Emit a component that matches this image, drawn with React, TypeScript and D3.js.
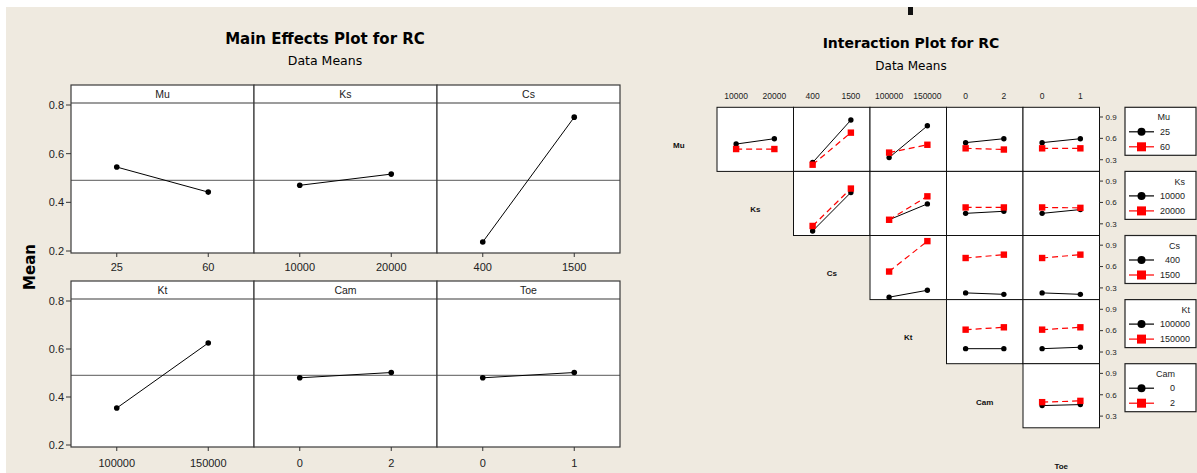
import React from 'react';
import * as d3 from 'd3';

// factor names and their two levels, as printed on the axes
const factors = ["Mu", "Ks", "Cs", "Kt", "Cam", "Toe"];
const factorLevels = [
  ["25", "60"],
  ["10000", "20000"],
  ["400", "1500"],
  ["100000", "150000"],
  ["0", "2"],
  ["0", "1"]
];

// main effects: mean RC at each level
const mainMeans = [
  [0.545, 0.442],
  [0.47, 0.516],
  [0.237, 0.75],
  [0.354, 0.625],
  [0.48, 0.502],
  [0.48, 0.502]
];
const grandMean = 0.49;
const mainTicks = [0.2, 0.4, 0.6, 0.8];

// interaction means, one array per row factor; each cell = [row level 1 series, row level 2 series]
// taken across the column factor's two levels (columns = the factors after the row factor)
const muRow = [
  [[0.52, 0.595], [0.45, 0.45]],
  [[0.26, 0.857], [0.23, 0.68]],
  [[0.33, 0.776], [0.40, 0.51]],
  [[0.54, 0.595], [0.46, 0.443]],
  [[0.54, 0.595], [0.46, 0.46]]
];
const ksRow = [
  [[0.20, 0.74], [0.27, 0.795]],
  [[0.357, 0.58], [0.357, 0.686]],
  [[0.447, 0.476], [0.53, 0.53]],
  [[0.447, 0.50], [0.53, 0.524]]
];
const csRow = [
  [[0.17, 0.267], [0.53, 0.957]],
  [[0.23, 0.21], [0.72, 0.767]],
  [[0.23, 0.21], [0.72, 0.767]]
];
const ktRow = [
  [[0.347, 0.347], [0.614, 0.647]],
  [[0.347, 0.367], [0.614, 0.647]]
];
const camRow = [
  [[0.448, 0.462], [0.496, 0.514]]
];
const interRows = [muRow, ksRow, csRow, ktRow, camRow];
const interTicks = [0.3, 0.6, 0.9];

const BG = "#efeae0";
const SANS = "'Liberation Sans', Arial, sans-serif";
const DEJAVU = "'DejaVu Sans', sans-serif";
const RED = "#ff0000";

const MainEffects: React.FC = () => {
  const panelLeft = 71;
  const panelW = 183;
  const rows = [
    { stripTop: 85, stripBottom: 103, plotBottom: 253, labelY: 267 },
    { stripTop: 281, stripBottom: 299, plotBottom: 447, labelY: 463 }
  ];

  return (
    <g>
      <text x={325} y={44} textAnchor="middle" fontFamily={DEJAVU} fontWeight="bold" fontSize={15}>
        Main Effects Plot for RC
      </text>
      <text x={325} y={65} textAnchor="middle" fontFamily={DEJAVU} fontSize={12.5}>
        Data Means
      </text>
      <text
        transform="translate(35,267) rotate(-90)"
        textAnchor="middle"
        fontFamily={DEJAVU}
        fontWeight="bold"
        fontSize={15}
      >
        Mean
      </text>

      {factors.map((f, i) => {
        const r = rows[Math.floor(i / 3)];
        const x0 = panelLeft + (i % 3) * panelW;
        const x = d3.scalePoint<string>().domain(factorLevels[i]).range([x0, x0 + panelW]).padding(0.5);
        const y = d3.scaleLinear().domain([0.2, 0.8]).range([r.plotBottom - 2, r.stripBottom + 2]);
        const pts = factorLevels[i].map((lv, k) => [x(lv) as number, y(mainMeans[i][k])] as [number, number]);
        return (
          <g key={f}>
            <rect x={x0} y={r.stripTop} width={panelW} height={r.plotBottom - r.stripTop} fill="#fff" />
            <line x1={x0} x2={x0 + panelW} y1={y(grandMean)} y2={y(grandMean)} stroke="#7a7a7a" strokeWidth={1.3} />
            <path d={d3.line()(pts) || ""} fill="none" stroke="#000" strokeWidth={1} />
            {pts.map((p, k) => (
              <circle key={k} cx={p[0]} cy={p[1]} r={2.8} fill="#000" />
            ))}
            <rect
              x={x0}
              y={r.stripTop}
              width={panelW}
              height={r.plotBottom - r.stripTop}
              fill="none"
              stroke="#3a3a3a"
              strokeWidth={1.2}
            />
            <line x1={x0} x2={x0 + panelW} y1={r.stripBottom} y2={r.stripBottom} stroke="#3a3a3a" strokeWidth={1.2} />
            <text
              x={x0 + panelW / 2}
              y={(r.stripTop + r.stripBottom) / 2}
              dy="0.35em"
              textAnchor="middle"
              fontFamily={SANS}
              fontSize={10.5}
              fill="#222"
            >
              {f}
            </text>
            {factorLevels[i].map(lv => (
              <g key={lv}>
                <line x1={x(lv)} x2={x(lv)} y1={r.plotBottom} y2={r.plotBottom + 4} stroke="#333" />
                <text
                  x={x(lv)}
                  y={r.labelY}
                  dy="0.35em"
                  textAnchor="middle"
                  fontFamily={SANS}
                  fontSize={11}
                  fill="#222"
                >
                  {lv}
                </text>
              </g>
            ))}
            {i % 3 === 0 &&
              mainTicks.map(t => (
                <g key={t}>
                  <line x1={x0 - 5} x2={x0} y1={y(t)} y2={y(t)} stroke="#333" />
                  <text
                    x={x0 - 7}
                    y={y(t)}
                    dy="0.35em"
                    textAnchor="end"
                    fontFamily={SANS}
                    fontSize={11}
                    fill="#222"
                  >
                    {t.toFixed(1)}
                  </text>
                </g>
              ))}
          </g>
        );
      })}
    </g>
  );
};

const InteractionPlot: React.FC = () => {
  const gridLeft = 717;
  const colW = 76.5;
  const gridTop = 107.3;
  const rowH = 64.1;
  const legendX = 1125;
  const legendW = 71;
  const legendH = 48;

  const colX = (j: number) => gridLeft + j * colW;
  const rowY = (i: number) => gridTop + i * rowH;

  return (
    <g>
      <rect x={908} y={7} width={5} height={8} fill="#111" />
      <text x={911} y={48} textAnchor="middle" fontFamily={DEJAVU} fontWeight="bold" fontSize={14}>
        Interaction Plot for RC
      </text>
      <text x={911} y={70} textAnchor="middle" fontFamily={DEJAVU} fontSize={12}>
        Data Means
      </text>

      {/* column level labels along the top */}
      {factors.slice(1).map((f, j) => {
        const x = d3.scalePoint<string>().domain(factorLevels[j + 1]).range([colX(j), colX(j) + colW]).padding(0.5);
        return factorLevels[j + 1].map(lv => (
          <text
            key={f + lv}
            x={x(lv)}
            y={96}
            dy="0.35em"
            textAnchor="middle"
            fontFamily={SANS}
            fontSize={8.5}
            fill="#222"
          >
            {lv}
          </text>
        ));
      })}

      {/* row labels on the diagonal */}
      {factors.map((f, i) => (
        <text
          key={"lab" + f}
          x={colX(i - 1) + colW / 2}
          y={rowY(i) + rowH / 2 + 6}
          dy="0.35em"
          textAnchor="middle"
          fontFamily={SANS}
          fontWeight="bold"
          fontSize={8}
          fill="#111"
        >
          {f}
        </text>
      ))}

      {interRows.map((cells, i) => {
        const top = rowY(i);
        const y = d3.scaleLinear().domain([0.136, 1.036]).range([top + rowH, top]);
        const rowLevels = factorLevels[i];
        const maxLen = Math.max(factors[i].length, ...rowLevels.map(s => s.length));
        const textRight = 1160 + 5 * maxLen;
        return (
          <g key={"row" + i}>
            {cells.map((cell, k) => {
              const j = i + k;
              const c = j + 1;
              const x = d3.scalePoint<string>().domain(factorLevels[c]).range([colX(j), colX(j) + colW]).padding(0.5);
              const series = cell.map(vals =>
                factorLevels[c].map((lv, n) => [x(lv) as number, y(vals[n])] as [number, number])
              );
              return (
                <g key={"cell" + k}>
                  <rect x={colX(j)} y={top} width={colW} height={rowH} fill="#fff" stroke="#111" strokeWidth={1} />
                  <path d={d3.line()(series[0]) || ""} fill="none" stroke="#000" strokeWidth={1} />
                  {series[0].map((p, n) => (
                    <circle key={n} cx={p[0]} cy={p[1]} r={2.7} fill="#000" />
                  ))}
                  <path
                    d={d3.line()(series[1]) || ""}
                    fill="none"
                    stroke={RED}
                    strokeWidth={1.2}
                    strokeDasharray="6,4"
                  />
                  {series[1].map((p, n) => (
                    <rect key={n} x={p[0] - 3.2} y={p[1] - 3.2} width={6.4} height={6.4} fill={RED} />
                  ))}
                </g>
              );
            })}

            {/* right-hand axis */}
            {interTicks.map(t => (
              <g key={t}>
                <line x1={colX(5)} x2={colX(5) + 3.5} y1={y(t)} y2={y(t)} stroke="#333" />
                <text
                  x={colX(5) + 6}
                  y={y(t)}
                  dy="0.35em"
                  fontFamily={SANS}
                  fontSize={8}
                  fill="#222"
                >
                  {t.toFixed(1)}
                </text>
              </g>
            ))}

            {/* legend for the row factor */}
            <rect x={legendX} y={top} width={legendW} height={legendH} fill="#fff" stroke="#222" strokeWidth={1.2} />
            <text
              x={textRight}
              y={top + 10}
              dy="0.35em"
              textAnchor="end"
              fontFamily={SANS}
              fontSize={9}
              fill="#222"
            >
              {factors[i]}
            </text>
            {rowLevels.map((lv, n) => {
              const ly = top + 24.5 + n * 15;
              const col = n === 0 ? "#000" : RED;
              return (
                <g key={lv}>
                  <line x1={legendX + 4} x2={legendX + 29} y1={ly} y2={ly} stroke={col} strokeWidth={1.2} />
                  {n === 0 ? (
                    <circle cx={legendX + 16.5} cy={ly} r={4} fill="#000" />
                  ) : (
                    <rect x={legendX + 12} y={ly - 4.5} width={9} height={9} fill={RED} />
                  )}
                  <text
                    x={textRight}
                    y={ly}
                    dy="0.35em"
                    textAnchor="end"
                    fontFamily={SANS}
                    fontSize={9}
                    fill="#222"
                  >
                    {lv}
                  </text>
                </g>
              );
            })}
          </g>
        );
      })}
    </g>
  );
};

const App: React.FC = () => {
  const width = 1197;
  const height = 473;
  return (
    <div style={{ position: 'absolute', left: 0, top: 0 }}>
      <svg width={width} height={height} style={{ display: 'block' }}>
        <rect x={0} y={0} width={width} height={height} fill="#fff" />
        <rect x={6} y={7} width={width - 6} height={height - 7} fill={BG} />
        <MainEffects />
        <InteractionPlot />
      </svg>
    </div>
  );
};

export default App;
